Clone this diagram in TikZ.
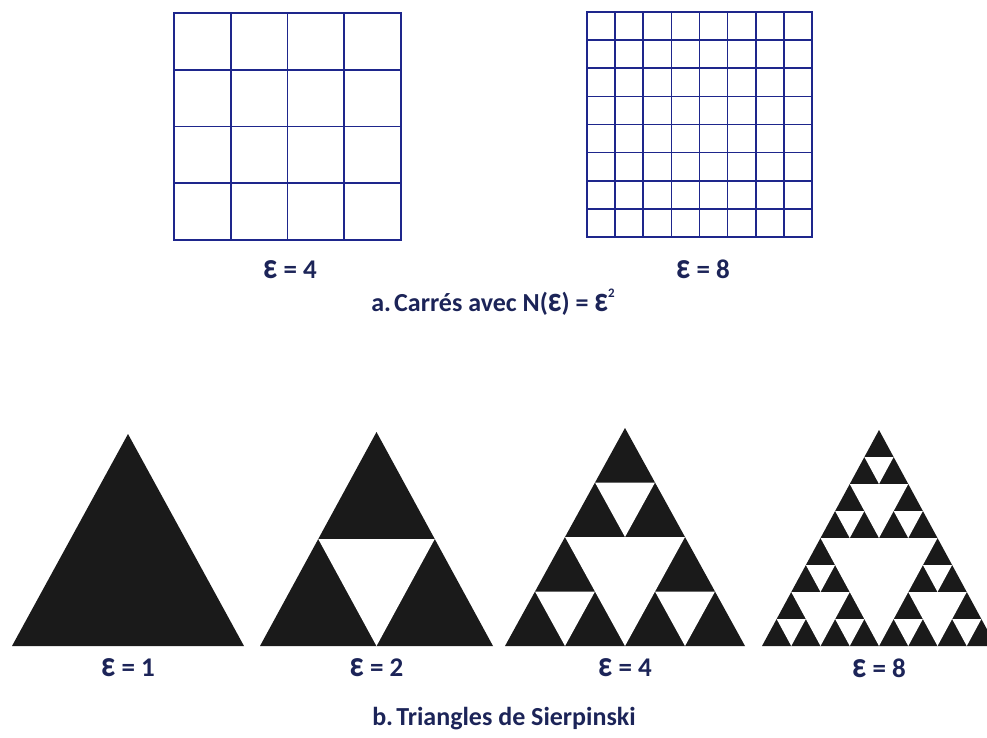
\documentclass[tikz,border=0pt]{standalone}
\usepackage{fontspec}
\setmainfont{Carlito}
\usetikzlibrary{positioning}
\definecolor{inknavy}{RGB}{28,36,88}
\definecolor{gridblue}{RGB}{30,38,140}
\definecolor{triblack}{RGB}{26,26,26}
\newcommand\epsi{\scalebox{1.15}[1.35]{ε}}
\tikzset{
    grid line/.style={draw=gridblue,line width=1.6pt,line cap=rect},
    eps label/.style={
        text=inknavy,inner sep=0pt,
        font=\bfseries\fontsize{27}{32}\selectfont
    },
    caption/.style={
        text=inknavy,inner sep=0pt,
        font=\bfseries\fontsize{26}{31}\selectfont
    },
    full tri/.style={fill=triblack},
    hole/.style={fill=white}
}
% white holes of a Sierpinski triangle: level, left x, base y, width, height
\newcommand\sierholes[5]{%
  \ifnum#1>0
  \begingroup
  \pgfmathsetmacro\hx{#2}\pgfmathsetmacro\hy{#3}%
  \pgfmathsetmacro\hw{(#4)/2}\pgfmathsetmacro\hh{(#5)/2}%
  \fill[hole] (\hx+\hw/2,\hy-\hh) -- (\hx+\hw*1.5,\hy-\hh) -- (\hx+\hw,\hy) -- cycle;
  \pgfmathtruncatemacro\lv{#1-1}%
  \pgfmathsetmacro\hxb{\hx+\hw}\pgfmathsetmacro\hxc{\hx+\hw/2}\pgfmathsetmacro\hyc{\hy-\hh}%
  \edef\next{\noexpand\sierholes{\lv}{\hx}{\hy}{\hw}{\hh}%
    \noexpand\sierholes{\lv}{\hxb}{\hy}{\hw}{\hh}%
    \noexpand\sierholes{\lv}{\hxc}{\hyc}{\hw}{\hh}}%
  \next
  \endgroup
  \fi}

\begin{document}
\begin{tikzpicture}[x=1pt,y=-1pt]
\useasboundingbox (0,0) rectangle (987,738);
% squares
\foreach \x/\y/\s/\n in {174/13/227/4,587/12/225/8}
  \foreach \i in {0,...,\n} {
    \draw[grid line] ({\x+\i*\s/\n},\y) -- ++(0,\s);
    \draw[grid line] (\x,{\y+\i*\s/\n}) -- ++(\s,0);
  }
\node[eps label] (sq4) at (290,270) {\epsi{} = 4};
\node[eps label] (sq8) at (703,269) {\epsi{} = 8};
\node[caption] (capa) at (493,302) {a.\hspace{0.12em}Carrés avec N(\epsi) = \epsi\raisebox{0.55em}{\fontsize{13}{13}\selectfont 2}};
% Sierpinski
\foreach \x/\w/\h/\lvl/\e in {12/232/212/0/1,260/233/214/1/2,505/240/218/2/4,762/234/216/3/8} {
  \fill[full tri] (\x,646) -- ++(\w,0) -- (\x+\w/2,646-\h) -- cycle;
  \sierholes{\lvl}{\x}{646}{\w}{\h}
  \node[eps label] (tri\e) at (\x+\w/2,668) {\epsi{} = \e};
}
\node[caption] (capb) at (504,719) {b.\hspace{0.12em}Triangles de Sierpinski};
\end{tikzpicture}
\end{document}
